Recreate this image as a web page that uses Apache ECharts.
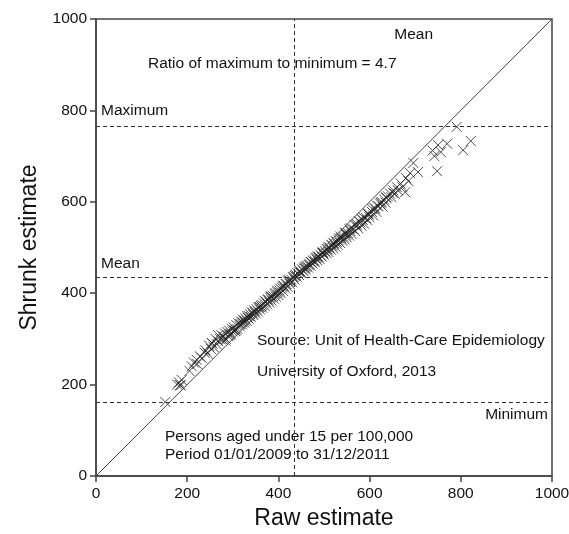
<!DOCTYPE html>
<html>
<head>
<meta charset="utf-8">
<script src="https://cdn.jsdelivr.net/npm/echarts@6/dist/echarts.min.js"></script>
<style>
html,body{margin:0;padding:0;background:#fff;}
#chart{width:569px;height:534px;}
</style>
</head>
<body>
<div id="chart"></div>
<script>
// raw estimate / shrunk estimate pairs
var rawVals = [152,178,182,184,188,186,205,210,215,221,222,228,232,238,240,245,248,252,254,255,258,262,265,268,268,272,275,278,280,283,285,288,290,292,295,298,300,302,305,308,310,312,315,318,320,322,325,328,330,332,335,338,340,342,345,348,350,352,355,358,360,362,365,368,370,372,375,378,380,382,385,388,390,392,395,398,400,402,405,408,410,412,415,418,420,422,425,428,430,432,435,438,440,442,445,448,450,452,455,458,460,462,465,468,470,472,475,478,480,482,485,488,490,492,495,498,500,502,505,508,510,512,515,518,520,522,525,528,530,532,535,538,540,542,545,548,550,552,555,558,560,565,568,572,575,580,582,585,588,592,595,598,600,605,608,612,615,620,625,628,632,635,640,645,648,652,655,660,662,668,672,680,685,678,689,696,706,738,742,748,750,756,770,791,805,822,
  296,304,316,326,336,344,356,364,376,384,394,404,416,424,436,446,456,466,476,486,496,506,516,526,536,546,556,566,576,586,596,606,616,626,636,
  284,293,307,321,333,347,359,371,383,397,409,421,433,447,459,471,483,497,509,521,533,547,559,571,583,597,611,623,637,651];
var shrunkVals = [162,200,205,199,210,198,230,240,248,254,245,262,258,270,275,268,285,278,291,290,282,300,288,295,308,300,308,298,305,312,300,315,306,318,310,322,316,325,318,330,322,335,328,338,332,342,336,345,340,350,344,354,348,358,352,362,356,365,360,370,364,372,368,378,372,382,376,386,380,390,384,394,388,398,392,402,396,406,400,412,405,416,410,420,414,425,420,430,424,435,430,440,436,444,440,448,444,452,448,456,452,460,456,464,460,468,465,472,468,476,472,480,475,484,480,488,484,492,488,496,490,500,495,504,498,508,502,512,506,516,510,520,515,524,518,528,522,532,526,536,530,540,536,548,542,555,548,560,552,565,560,572,566,578,570,585,578,590,598,590,605,598,612,618,610,625,618,632,625,640,632,652,645,621,663,685,665,712,700,667,724,709,727,764,713,733,
  312,318,332,340,350,356,368,374,386,392,400,410,420,428,438,446,454,462,470,480,488,496,506,514,524,532,540,550,558,566,574,584,592,600,610,
  296,308,320,336,346,360,370,382,394,406,416,428,436,448,458,468,478,490,500,510,520,532,542,552,562,574,586,596,608,620];
var ticks = [0, 200, 400, 600, 800, 1000];
var meanRaw = 435, meanShrunk = 435, maxShrunk = 765, minShrunk = 162;

var points = [];
for (var i = 0; i < rawVals.length; i++) {
  points.push([rawVals[i], shrunkVals[i]]);
}

var chart = echarts.init(document.getElementById('chart'));
var txt = {fontFamily: 'Liberation Sans, Arial, sans-serif', fontSize: 15.5, fill: '#111'};
function label(x, y, s, align) {
  return {type: 'text', x: x, y: y, style: Object.assign({text: s, textAlign: align || 'left', textVerticalAlign: 'middle'}, txt)};
}
var dash = {type: [4, 3], color: '#333', width: 1};
function axisFont(m) {
  return {fontFamily: 'Liberation Sans, Arial', fontSize: 15.5, color: '#111', margin: m,
    formatter: function (v) { return ticks.indexOf(v) >= 0 ? String(v) : ''; }};
}

chart.setOption({
  animation: false,
  grid: {left: 96, right: 17, top: 19, bottom: 58, containLabel: false, outerBoundsMode: 'none',
    show: true, borderColor: '#444', borderWidth: 1.5},
  xAxis: {
    type: 'value', min: 0, max: 1000, interval: 200,
    name: 'Raw estimate', nameLocation: 'middle', nameGap: 29,
    nameTextStyle: {fontFamily: 'Liberation Sans, Arial', fontSize: 23, color: '#111'},
    axisLine: {show: true, lineStyle: {color: '#444', width: 1.5}},
    axisTick: {show: true, inside: false, length: 6, lineStyle: {color: '#444', width: 1.5}},
    axisLabel: axisFont(10),
    splitLine: {show: false}
  },
  yAxis: {
    type: 'value', min: 0, max: 1000, interval: 200,
    name: 'Shrunk estimate', nameLocation: 'middle', nameGap: 40,
    nameTextStyle: {fontFamily: 'Liberation Sans, Arial', fontSize: 23, color: '#111'},
    axisLine: {show: true, lineStyle: {color: '#444', width: 1.5}},
    axisTick: {show: true, inside: false, length: 6, lineStyle: {color: '#444', width: 1.5}},
    axisLabel: axisFont(9),
    splitLine: {show: false}
  },
  series: [
    {
      type: 'line',
      data: [[0, 0], [1000, 1000]],
      symbol: 'none',
      lineStyle: {color: '#444', width: 1},
      silent: true,
      markLine: {
        silent: true, symbol: 'none', label: {show: false},
        lineStyle: dash,
        data: [{xAxis: meanRaw}, {yAxis: meanShrunk}, {yAxis: maxShrunk}, {yAxis: minShrunk}]
      }
    },
    {
      type: 'scatter',
      data: points,
      symbol: 'path://M0,0L10,10M10,0L0,10',
      symbolSize: 10,
      itemStyle: {color: 'rgba(0,0,0,0)', borderColor: '#222', borderWidth: 1}
    }
  ],
  graphic: [
    label(433, 35, 'Mean', 'right'),
    label(148, 64, 'Ratio of maximum to minimum = 4.7'),
    label(101, 111, 'Maximum'),
    label(101, 264, 'Mean'),
    label(257, 341, 'Source: Unit of Health-Care Epidemiology'),
    label(257, 372, 'University of Oxford, 2013'),
    label(548, 415, 'Minimum', 'right'),
    label(165, 437, 'Persons aged under 15 per 100,000'),
    label(165, 455, 'Period 01/01/2009 to 31/12/2011')
  ]
});
</script>
</body>
</html>
